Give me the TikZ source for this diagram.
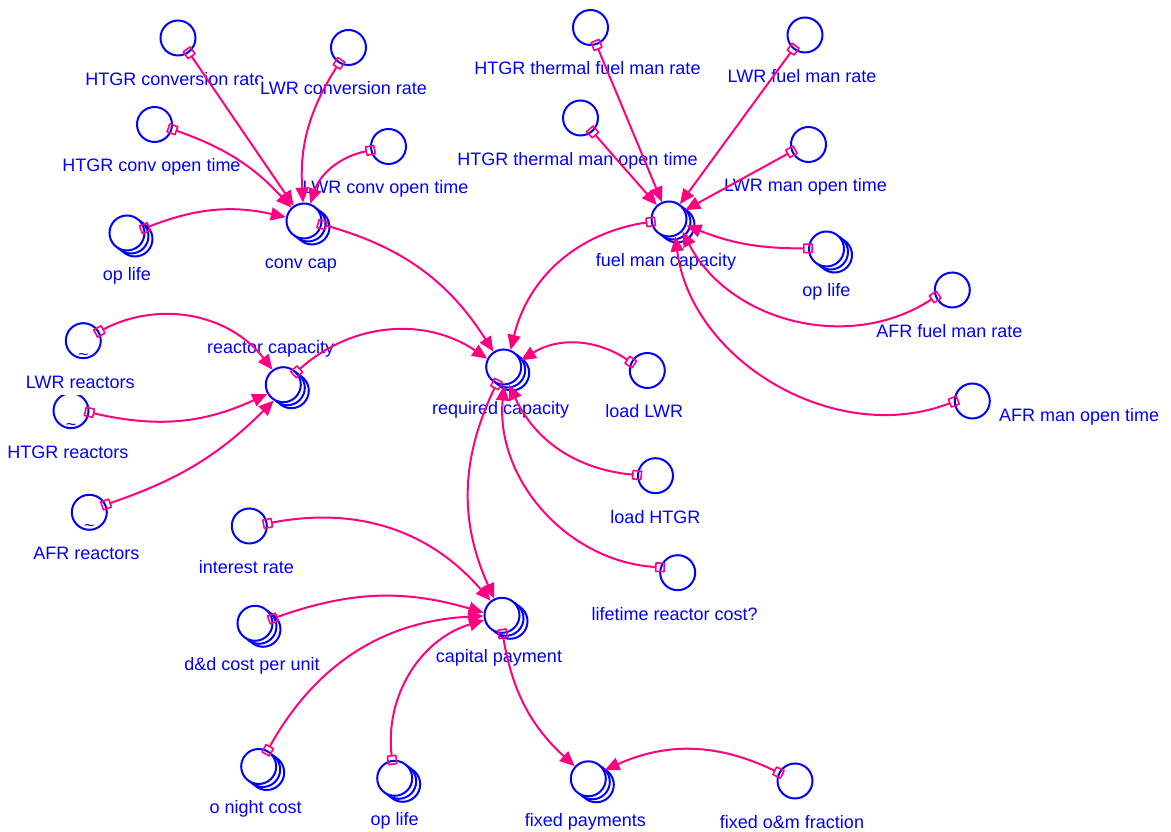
\documentclass[tikz,border=0pt]{standalone}
\usepackage{fontspec}
\setmainfont{Liberation Sans}
\usetikzlibrary{arrows.meta, positioning, shadows}

\definecolor{vblue}{RGB}{0,0,255}
\definecolor{lpink}{RGB}{255,0,128}

\tikzset{
  var/.style={circle, draw=vblue, fill=white, line width=2pt, minimum size=35pt, inner sep=0pt},
  stack/.style={var,
    copy shadow={shadow xshift=8pt, shadow yshift=-6pt, draw=vblue, fill=white},
    copy shadow={shadow xshift=4pt, shadow yshift=-3pt, draw=vblue, fill=white}},
  lookup/.style={var, label={[text=vblue, font=\fontsize{17.8}{21}\selectfont, yshift=-16pt]center:\textasciitilde}},
  vname/.style={text=vblue, fill=white, font=\fontsize{18}{21}\selectfont, inner xsep=2pt, inner ysep=3pt,
    outer sep=0pt, text height=13pt, text depth=4pt, xshift=-3pt},
  link/.style={draw=lpink, line width=2pt,
    {Square[open, length=10pt, width=10pt, line width=1.6pt, round]}-{Triangle[length=15pt, width=13pt]},
    shorten <=-5pt},
}

\begin{document}
\begin{tikzpicture}[x=1pt, y=1pt]
  \useasboundingbox (0,0) rectangle (1171,832);

  % conversion
  \node[var] (htgrconv) at (178,794) {};
  \node[var] (lwrconv) at (348.5,784.5) {};
  \node[var] (htgrcopen) at (154.5,707.5) {};
  \node[var] (lwrcopen) at (388.5,685.5) {};
  \node[stack] (oplifea) at (127,599) {};
  \node[stack] (convcap) at (304,611) {};

  % fuel manufacturing
  \node[var] (htgrfuel) at (590.5,804.5) {};
  \node[var] (lwrfuel) at (805,797) {};
  \node[var] (htgrmopen) at (580.5,714) {};
  \node[var] (lwrmopen) at (808.5,687.5) {};
  \node[stack] (fuelcap) at (669,613) {};
  \node[stack] (oplifeb) at (826.5,583) {};
  \node[var] (afrfuel) at (952.3,542) {};
  \node[var] (afropen) at (972.3,431) {};

  % reactors
  \node[lookup] (lwrreac) at (83.3,491.3) {};
  \node[lookup] (htgrreac) at (71,421.3) {};
  \node[lookup] (afrreac) at (89.3,319.7) {};
  \node[stack] (reaccap) at (283.3,447.3) {};
  \node[stack] (reqcap) at (503.7,465) {};
  \node[var] (loadlwr) at (647.3,461.5) {};
  \node[var] (loadhtgr) at (655.5,356.3) {};
  \node[var] (lifecost) at (677.7,259.3) {};

  % payments
  \node[var] (interest) at (249.3,306) {};
  \node[stack] (ddcost) at (255,208.7) {};
  \node[stack] (cappay) at (502,216.7) {};
  \node[stack] (onight) at (258.7,65.5) {};
  \node[stack] (oplifec) at (394.7,53.7) {};
  \node[stack] (fixpay) at (588.3,53.2) {};
  \node[var] (fixom) at (795,51) {};

  % names
  \node[vname, below=13pt of htgrconv] (htgrconvL) {HTGR conversion rate};
  \node[vname, below=13pt of lwrconv, xshift=-2pt] (lwrconvL) {LWR conversion rate};
  \node[vname, below=13pt of htgrcopen] (htgrcopenL) {HTGR conv open time};
  \node[vname, below=13pt of lwrcopen] (lwrcopenL) {LWR conv open time};
  \node[vname, below=13pt of oplifea, xshift=3pt] (oplifeaL) {op life};
  \node[vname, below=13pt of convcap] (convcapL) {conv cap};
  \node[vname, below=13pt of htgrfuel] (htgrfuelL) {HTGR thermal fuel man rate};
  \node[vname, below=13pt of lwrfuel] (lwrfuelL) {LWR fuel man rate};
  \node[vname, below=13pt of htgrmopen] (htgrmopenL) {HTGR thermal man open time};
  \node[vname, below=13pt of lwrmopen] (lwrmopenL) {LWR man open time};
  \node[vname, below=13pt of fuelcap] (fuelcapL) {fuel man capacity};
  \node[vname, below=13pt of oplifeb, xshift=3pt] (oplifebL) {op life};
  \node[vname, below=13pt of afrfuel] (afrfuelL) {AFR fuel man rate};
  \node[vname, right=9.3pt of afropen, yshift=-16pt] (afropenL) {AFR man open time};
  \node[vname, below=13pt of lwrreac] (lwrreacL) {LWR reactors};
  \node[vname, below=13pt of htgrreac] (htgrreacL) {HTGR reactors};
  \node[vname, below=13pt of afrreac] (afrreacL) {AFR reactors};
  \node[vname, above=6pt of reaccap, xshift=-9.6pt] (reaccapL) {reactor capacity};
  \node[vname, below=13pt of reqcap] (reqcapL) {required capacity};
  \node[vname, below=13pt of loadlwr] (loadlwrL) {load LWR};
  \node[vname, below=13pt of loadhtgr, xshift=3pt] (loadhtgrL) {load HTGR};
  \node[vname, below=13pt of lifecost] (lifecostL) {lifetime reactor cost?};
  \node[vname, below=13pt of interest] (interestL) {interest rate};
  \node[vname, below=13pt of ddcost] (ddcostL) {d\&d cost per unit};
  \node[vname, below=13pt of cappay] (cappayL) {capital payment};
  \node[vname, below=13pt of onight] (onightL) {o night cost};
  \node[vname, below=13pt of oplifec, xshift=3pt] (oplifecL) {op life};
  \node[vname, below=13pt of fixpay] (fixpayL) {fixed payments};
  \node[vname, below=13pt of fixom] (fixomL) {fixed o\&m fraction};

  % links into conv cap
  \draw[link] (htgrconv.-53) -- (convcap);
  \draw[link] (lwrconv.-121) to[bend right=18] (convcap.93);
  \draw[link] (htgrcopen.-15) to[bend left=14] (convcap.133);
  \draw[link] (lwrcopen.-168) to[bend right=30] (convcap.70);
  \draw[link] (oplifea.15) to[bend left=17] (convcap.168);
  \draw[link] (convcap.-11) to[bend left=21] (reqcap.124);

  % links into fuel man capacity
  \draw[link] (htgrfuel.-71) -- (fuelcap);
  \draw[link] (lwrfuel.-130) -- (fuelcap);
  \draw[link] (htgrmopen.-49) -- (fuelcap);
  \draw[link] (lwrmopen.-157) -- (fuelcap);
  \draw[link] (oplifeb.178) to[bend left=11] (fuelcap.-20);
  \draw[link] (afrfuel.-158) to[bend left=48] (fuelcap.-43);
  \draw[link] (afropen.-178) to[bend left=52] (fuelcap.-70);
  \draw[link] (fuelcap.-171) to[bend right=34] (reqcap.68);

  % links into reactor and required capacity
  \draw[link] (lwrreac.30) to[bend left=40] (reaccap.126);
  \draw[link] (htgrreac.-5) to[bend right=19] (reaccap.-150);
  \draw[link] (afrreac.25) to[bend right=13] (reaccap.-121);
  \draw[link] (reaccap.44) to[bend left=38] (reqcap.153);
  \draw[link] (loadlwr.153) to[bend right=33] (reqcap.21);
  \draw[link] (loadhtgr.178) to[bend left=30] (reqcap.-73);
  \draw[link] (lifecost.163) to[bend left=46] (reqcap.-89);

  % links into payments
  \draw[link] (reqcap.-113) to[bend right=25] (cappay.115);
  \draw[link] (interest.8) to[bend left=30] (cappay.128);
  \draw[link] (ddcost.15) to[bend left=18] (cappay.172);
  \draw[link] (onight.61) to[bend left=29] (cappay.-178);
  \draw[link] (oplifec.98) to[bend left=40] (cappay.-165);
  \draw[link] (cappay.-88) to[bend right=19] (fixpay.137);
  \draw[link] (fixom.153) to[bend right=25] (fixpay.28);
\end{tikzpicture}
\end{document}
